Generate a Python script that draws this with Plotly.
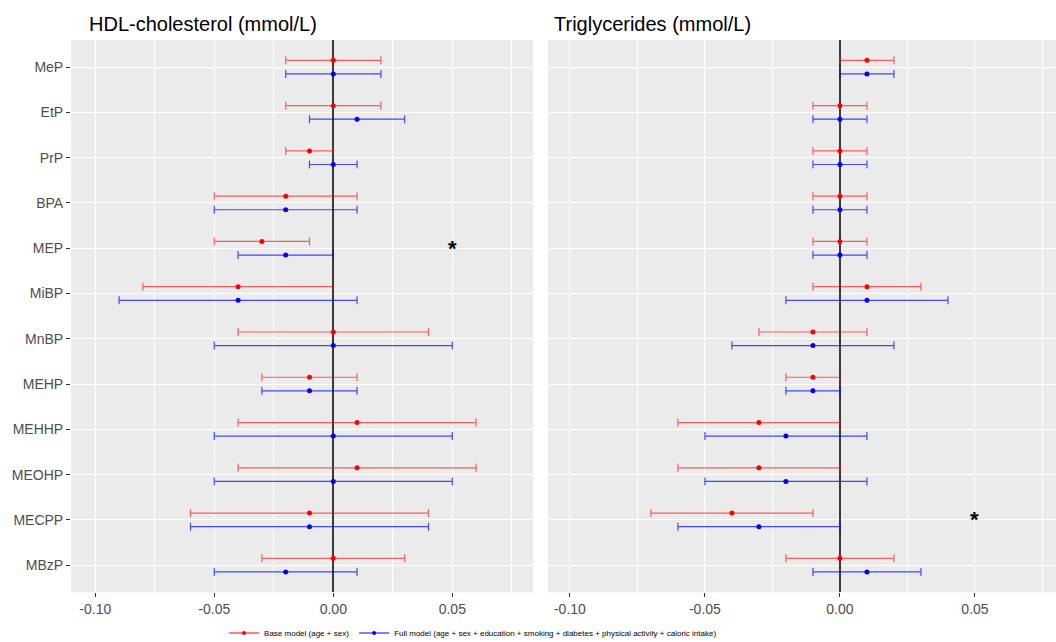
import plotly.graph_objects as go

categories = ["MeP", "EtP", "PrP", "BPA", "MEP", "MiBP", "MnBP", "MEHP",
              "MEHHP", "MEOHP", "MECPP", "MBzP"]

# HDL-cholesterol
hdl_base_est = [0.00, 0.00, -0.01, -0.02, -0.03, -0.04, 0.00, -0.01, 0.01, 0.01, -0.01, 0.00]
hdl_base_lo = [-0.02, -0.02, -0.02, -0.05, -0.05, -0.08, -0.04, -0.03, -0.04, -0.04, -0.06, -0.03]
hdl_base_hi = [0.02, 0.02, 0.00, 0.01, -0.01, 0.00, 0.04, 0.01, 0.06, 0.06, 0.04, 0.03]
hdl_full_est = [0.00, 0.01, 0.00, -0.02, -0.02, -0.04, 0.00, -0.01, 0.00, 0.00, -0.01, -0.02]
hdl_full_lo = [-0.02, -0.01, -0.01, -0.05, -0.04, -0.09, -0.05, -0.03, -0.05, -0.05, -0.06, -0.05]
hdl_full_hi = [0.02, 0.03, 0.01, 0.01, 0.00, 0.01, 0.05, 0.01, 0.05, 0.05, 0.04, 0.01]

# Triglycerides
tg_base_est = [0.01, 0.00, 0.00, 0.00, 0.00, 0.01, -0.01, -0.01, -0.03, -0.03, -0.04, 0.00]
tg_base_lo = [0.00, -0.01, -0.01, -0.01, -0.01, -0.01, -0.03, -0.02, -0.06, -0.06, -0.07, -0.02]
tg_base_hi = [0.02, 0.01, 0.01, 0.01, 0.01, 0.03, 0.01, 0.00, 0.00, 0.00, -0.01, 0.02]
tg_full_est = [0.01, 0.00, 0.00, 0.00, 0.00, 0.01, -0.01, -0.01, -0.02, -0.02, -0.03, 0.01]
tg_full_lo = [0.00, -0.01, -0.01, -0.01, -0.01, -0.02, -0.04, -0.02, -0.05, -0.05, -0.06, -0.01]
tg_full_hi = [0.02, 0.01, 0.01, 0.01, 0.01, 0.04, 0.02, 0.00, 0.01, 0.01, 0.00, 0.03]

hdl_sig = ["MEP"]
tg_sig = ["MECPP"]
sig_x = 0.05

x_tickvals = [-0.10, -0.05, 0.00, 0.05]
x_ticktext = ["-0.10", "-0.05", "0.00", "0.05"]

base_name = "Base model (age + sex)"
full_name = "Full model (age + sex + education + smoking + diabetes + physical activity + caloric intake)"

RED_BAR = "rgba(255,0,0,0.6)"
BLUE_BAR = "rgba(0,0,255,0.7)"
DODGE = 0.15

fig = go.Figure()

idx = list(range(len(categories)))


def add_series(est, lo, hi, color, barcolor, offset, xa, ya):
    fig.add_trace(go.Scatter(
        x=est, y=[i + offset for i in idx],
        mode="markers",
        marker=dict(color=color, size=5),
        error_x=dict(type="data", symmetric=False,
                     array=[h - e for h, e in zip(hi, est)],
                     arrayminus=[e - l for e, l in zip(est, lo)],
                     color=barcolor, thickness=1.2, width=4),
        xaxis=xa, yaxis=ya, showlegend=False, hoverinfo="skip"))


add_series(hdl_base_est, hdl_base_lo, hdl_base_hi, "red", RED_BAR, -DODGE, "x", "y")
add_series(hdl_full_est, hdl_full_lo, hdl_full_hi, "blue", BLUE_BAR, DODGE, "x", "y")
add_series(tg_base_est, tg_base_lo, tg_base_hi, "red", RED_BAR, -DODGE, "x2", "y2")
add_series(tg_full_est, tg_full_lo, tg_full_hi, "blue", BLUE_BAR, DODGE, "x2", "y2")

# legend entries
fig.add_trace(go.Scatter(x=[None], y=[None], mode="lines+markers", name=base_name,
                         line=dict(color="red", width=1.2), marker=dict(color="red", size=4)))
fig.add_trace(go.Scatter(x=[None], y=[None], mode="lines+markers", name=full_name,
                         line=dict(color="blue", width=1.2), marker=dict(color="blue", size=4)))

ydom = [1 - 592.3 / 642, 1 - 40 / 642]
axis_font = dict(family="Arial", size=14, color="#4D4D4D")

common_x = dict(tickvals=x_tickvals, ticktext=x_ticktext, showgrid=True,
                gridcolor="white", gridwidth=1.3, zeroline=True,
                zerolinecolor="#3a3a3a", zerolinewidth=1.5,
                ticks="outside", ticklen=4, tickcolor="#333333",
                tickfont=axis_font, showline=False, automargin=False,
                minor=dict(tick0=0, dtick=0.025, showgrid=True,
                           gridcolor="white", gridwidth=0.7, ticks=""))

fig.update_layout(
    width=1056, height=642,
    margin=dict(l=0, r=0, t=0, b=0, autoexpand=False),
    paper_bgcolor="white", plot_bgcolor="#EBEBEB",
    font=dict(family="Arial"),
    xaxis=dict(domain=[71 / 1056, 533 / 1056], range=[-0.1102, 0.0839], anchor="y", **common_x),
    xaxis2=dict(domain=[548 / 1056, 1.0], range=[-0.1081, 0.0800], anchor="y2", **common_x),
    yaxis=dict(domain=ydom, range=[len(categories) - 0.4, -0.6], tickvals=idx,
               ticktext=categories, showgrid=True, gridcolor="white", gridwidth=1.3,
               zeroline=False, ticks="outside", ticklen=4, tickcolor="#333333",
               tickfont=axis_font, anchor="x", automargin=False),
    yaxis2=dict(domain=ydom, range=[len(categories) - 0.4, -0.6], tickvals=idx,
                showticklabels=False, showgrid=True, gridcolor="white", gridwidth=1.3,
                zeroline=False, ticks="", anchor="x2", automargin=False),
    legend=dict(orientation="h", x=0.448, xanchor="center", y=1 - 633 / 642, yanchor="middle",
                font=dict(family="Arial", size=8, color="black"),
                bgcolor="rgba(0,0,0,0)", itemwidth=30),
    showlegend=True,
)

# panel titles
fig.add_annotation(text="HDL-cholesterol (mmol/L)", xref="paper", yref="paper",
                   x=87 / 1056, y=1 - 24 / 642, xanchor="left", yanchor="middle",
                   showarrow=False, font=dict(family="Arial", size=20, color="black"))
fig.add_annotation(text="Triglycerides (mmol/L)", xref="paper", yref="paper",
                   x=552 / 1056, y=1 - 24 / 642, xanchor="left", yanchor="middle",
                   showarrow=False, font=dict(family="Arial", size=20, color="black"))

# significance markers
for c in hdl_sig:
    fig.add_annotation(text="<b>*</b>", x=sig_x, y=categories.index(c), xref="x", yref="y",
                       showarrow=False, font=dict(family="Arial", size=22, color="black"))
for c in tg_sig:
    fig.add_annotation(text="<b>*</b>", x=sig_x, y=categories.index(c), xref="x2", yref="y2",
                       showarrow=False, font=dict(family="Arial", size=22, color="black"))

fig.write_html("out.html", config={"displayModeBar": False},
               post_script="document.body.style.margin='0';document.body.style.overflow='hidden';")
